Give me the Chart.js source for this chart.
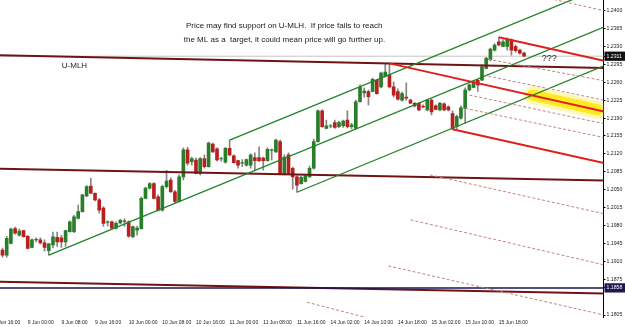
<!DOCTYPE html>
<html><head><meta charset="utf-8">
<script src="https://cdn.jsdelivr.net/npm/chart.js@4/dist/chart.umd.min.js"></script>
<style>html,body{margin:0;padding:0;background:#fff;overflow:hidden}#wrap{width:625px;height:327px;position:relative}</style>
</head><body><div id="wrap"><canvas id="c"></canvas></div>
<script>
// ---- time axis labels (bar index -> label) ----
const timeLabels = ["8 Jun 16:00","9 Jun 00:00","9 Jun 08:00","9 Jun 16:00","10 Jun 00:00","10 Jun 08:00","10 Jun 16:00","11 Jun 00:00","11 Jun 08:00","11 Jun 16:00","14 Jun 02:00","14 Jun 10:00","14 Jun 18:00","15 Jun 02:00","15 Jun 10:00","15 Jun 18:00"];
const timeTickBars = [-2,6,14,22,30,38,46,54,62,70,78,86,94,102,110,118];

// ---- H1 candles ----
const opens = [1.1932,1.1922,1.1945,1.1974,1.1961,1.1970,1.1959,1.1937,1.1952,1.1952,
1.1946,1.1931,1.1942,1.1957,1.1956,1.1948,1.1968,1.1968,1.1994,1.2007,
1.2038,1.2057,1.2043,1.2030,1.2014,1.1986,1.1987,1.1975,1.1985,1.1989,
1.1987,1.1958,1.1971,1.1974,1.2033,1.2053,1.2062,1.2036,1.2010,1.2056,
1.2069,1.2046,1.2027,1.2075,1.2128,1.2105,1.2108,1.2082,1.2111,1.2095,
1.2139,1.2130,1.2110,1.2104,1.2131,1.2116,1.2107,1.2102,1.2098,1.2098,
1.2113,1.2113,1.2112,1.2107,1.2127,1.2124,1.2144,1.2082,1.2118,1.2092,
1.2075,1.2062,1.2066,1.2075,1.2092,1.2144,1.2204,1.2170,1.2174,1.2181,
1.2173,1.2175,1.2186,1.2173,1.2170,1.2222,1.2239,1.2242,1.2242,1.2264,
1.2251,1.2272,1.2274,1.2251,1.2242,1.2225,1.2231,1.2225,1.2219,1.2219,
1.2213,1.2206,1.2225,1.2214,1.2206,1.2218,1.2212,1.2199,1.2173,1.2190,
1.2209,1.2245,1.2250,1.2264,1.2264,1.2287,1.2304,1.2323,1.2339,1.2330,
1.2330,1.2343,1.2330,1.2323,1.2317];
const highs = [1.1936,1.1959,1.1975,1.1977,1.1973,1.1971,1.1961,1.1954,1.1956,1.1956,
1.1952,1.1945,1.1967,1.1967,1.1961,1.1971,1.1989,1.2000,1.2020,1.2041,
1.2058,1.2072,1.2044,1.2033,1.2017,1.1989,1.1989,1.1987,1.1992,1.1993,
1.1989,1.1979,1.1979,1.2036,1.2055,1.2064,1.2064,1.2040,1.2059,1.2088,
1.2073,1.2049,1.2079,1.2132,1.2133,1.2114,1.2112,1.2113,1.2118,1.2143,
1.2141,1.2132,1.2114,1.2133,1.2147,1.2118,1.2108,1.2109,1.2110,1.2120,
1.2122,1.2134,1.2114,1.2132,1.2130,1.2149,1.2147,1.2118,1.2122,1.2094,
1.2077,1.2076,1.2079,1.2096,1.2149,1.2206,1.2206,1.2186,1.2178,1.2186,
1.2184,1.2186,1.2204,1.2180,1.2225,1.2255,1.2249,1.2245,1.2268,1.2266,
1.2280,1.2295,1.2297,1.2261,1.2247,1.2241,1.2259,1.2227,1.2221,1.2221,
1.2216,1.2227,1.2227,1.2216,1.2221,1.2220,1.2214,1.2204,1.2196,1.2214,
1.2249,1.2257,1.2264,1.2266,1.2294,1.2309,1.2327,1.2335,1.2348,1.2343,
1.2347,1.2345,1.2333,1.2325,1.2319];
const lows = [1.1918,1.1918,1.1944,1.1963,1.1959,1.1957,1.1934,1.1936,1.1948,1.1944,
1.1930,1.1922,1.1936,1.1939,1.1937,1.1939,1.1967,1.1966,1.1993,1.2006,
1.2036,1.2042,1.2028,1.2004,1.1978,1.1979,1.1973,1.1973,1.1983,1.1978,
1.1957,1.1956,1.1961,1.1973,1.2032,1.2051,1.2032,1.2008,1.2008,1.2053,
1.2044,1.2024,1.2026,1.2069,1.2098,1.2098,1.2081,1.2079,1.2092,1.2094,
1.2123,1.2106,1.2106,1.2102,1.2116,1.2102,1.2092,1.2095,1.2096,1.2092,
1.2088,1.2105,1.2088,1.2106,1.2108,1.2123,1.2079,1.2079,1.2081,1.2051,
1.2045,1.2061,1.2065,1.2074,1.2090,1.2143,1.2172,1.2169,1.2171,1.2170,
1.2172,1.2172,1.2171,1.2169,1.2169,1.2221,1.2231,1.2216,1.2241,1.2237,
1.2249,1.2270,1.2249,1.2231,1.2225,1.2223,1.2225,1.2218,1.2212,1.2204,
1.2210,1.2204,1.2196,1.2206,1.2204,1.2204,1.2204,1.2168,1.2169,1.2188,
1.2180,1.2243,1.2249,1.2242,1.2263,1.2286,1.2302,1.2321,1.2331,1.2329,
1.2323,1.2313,1.2319,1.2315,1.2310];
const closes = [1.1922,1.1955,1.1973,1.1965,1.1969,1.1958,1.1935,1.1952,1.1953,1.1946,
1.1937,1.1944,1.1958,1.1948,1.1948,1.1970,1.1987,1.1997,1.2007,1.2040,
1.2056,1.2043,1.2030,1.2010,1.1984,1.1987,1.1975,1.1984,1.1990,1.1988,
1.1959,1.1978,1.1975,1.2033,1.2053,1.2062,1.2033,1.2010,1.2056,1.2067,
1.2046,1.2027,1.2075,1.2128,1.2102,1.2111,1.2082,1.2111,1.2095,1.2141,
1.2124,1.2108,1.2111,1.2131,1.2118,1.2103,1.2098,1.2103,1.2109,1.2118,
1.2107,1.2107,1.2107,1.2129,1.2128,1.2147,1.2082,1.2114,1.2082,1.2075,
1.2059,1.2074,1.2077,1.2092,1.2144,1.2204,1.2173,1.2175,1.2175,1.2172,
1.2181,1.2184,1.2173,1.2177,1.2222,1.2250,1.2243,1.2232,1.2266,1.2238,
1.2278,1.2280,1.2251,1.2235,1.2227,1.2238,1.2229,1.2219,1.2214,1.2206,
1.2212,1.2225,1.2202,1.2207,1.2219,1.2206,1.2206,1.2169,1.2193,1.2210,
1.2245,1.2255,1.2261,1.2255,1.2290,1.2307,1.2325,1.2333,1.2333,1.2339,
1.2344,1.2323,1.2322,1.2317,1.2311];

// ---- price axis ----
const priceTicks = [1.1805,1.1875,1.1910,1.1945,1.1980,1.2015,1.2050,1.2085,1.2120,1.2155,1.2190,1.2225,1.2260,1.2295,1.2330,1.2365,1.2400];
const bidPrice = 1.2311;
const markPrice = 1.1858;

// ---- drawn objects: [bar, price] endpoints ----
const uMLH      = [[-1,1.2313],[143,1.2288]];
const midMaroon = [[-1,1.2091],[143,1.2068]];
const lowMaroon = [[-1,1.1870],[143,1.1847]];
const markLine  = [[-1,markPrice],[143,markPrice]];
const bidLine   = [[-1,bidPrice],[143,bidPrice]];
const greenUpper  = [[54,1.2147],[143,1.2447]];
const greenMiddle = [[11,1.1922],[143,1.2368]];
const greenLower  = [[70,1.2045],[143,1.2292]];
const redTop    = [[118,1.2348],[143,1.2302]];
const redMedian = [[92,1.2297],[143,1.2203]];
const redBottom = [[107,1.2168],[143,1.2102]];
const warnLines = [
  [[130,1.2424],[143,1.2400]],
  [[115.5,1.2305],[143,1.2263]],
  [[115.5,1.2272],[143,1.2225]],
  [[111,1.2235],[143,1.2179]],
  [[110,1.2209],[143,1.2152]],
  [[101.6,1.2079],[143,1.2003]],
  [[97,1.1991],[143,1.1903]],
  [[91.7,1.1901],[143,1.1805]],
  [[72.4,1.1830],[143,1.1680]]
];
const highlight = [[126,1.2235],[141.5,1.2206]];

// ---- text notes ----
const noteTexts = ["Price may find support on U-MLH.  If price fails to reach","the ML as a  target, it could mean price will go further up.","U-MLH","???"];
const noteAnchors = [[43.6,1.2371],[43.1,1.2343],[14.1,1.2292],[128.2,1.2307]];

// ---- build ----
const GREEN = '#2a7d2a', RED = '#b8201f';
const idx = opens.map((_, i) => i);
const pts = a => a.map(([x, y]) => ({x, y}));
function lineDS(points, color, width, dash, order, cap) {
  return {type:'line', data: pts(points), borderColor: color, borderWidth: width,
    borderDash: dash || [], pointRadius: 0, pointHoverRadius: 0, fill: false, tension: 0,
    order: order, borderCapStyle: cap || 'butt', clip: 0};
}
const datasets = [
  lineDS(highlight, 'rgba(255,240,80,0.45)', 18, null, 100, 'round'),
  lineDS(highlight, 'rgba(255,232,20,0.9)', 11, null, 99, 'round'),
  lineDS(bidLine, '#c4c4c4', 1, null, 90),
  {type:'bar', data: idx.map(i => ({x: i, y: [lows[i], highs[i]]})), backgroundColor: '#858585',
    barThickness: 1, grouped: false, borderWidth: 0, order: 60},
  {type:'bar', data: idx.map(i => ({x: i, y: [opens[i], closes[i]]})),
    backgroundColor: idx.map(i => closes[i] >= opens[i] ? GREEN : RED),
    barThickness: 3, grouped: false, borderWidth: 0, borderSkipped: false, order: 59},
  lineDS(uMLH, '#6e1414', 2, null, 10),
  lineDS(midMaroon, '#6e1414', 2, null, 10),
  lineDS(lowMaroon, '#6e1414', 2, null, 10),
  lineDS(markLine, '#1b1450', 1.5, null, 9),
  lineDS(greenUpper, '#23822a', 1.3, null, 8),
  lineDS(greenMiddle, '#23822a', 1.3, null, 8),
  lineDS(greenLower, '#23822a', 1.3, null, 8),
  ...warnLines.map(w => lineDS(w, '#c08585', 1, [3, 2], 7)),
  lineDS(redTop, '#e0201c', 2, null, 5),
  lineDS(redMedian, '#e0201c', 2, null, 5),
  lineDS(redBottom, '#e0201c', 2, null, 5)
];

const yTicks = priceTicks.concat([bidPrice, markPrice]).sort((a, b) => a - b);
const isSpecial = v => Math.abs(v - bidPrice) < 1e-7 || Math.abs(v - markPrice) < 1e-7;
const axisFont = {family: '"Liberation Sans", Arial, sans-serif', size: 5.2};
const AXIS_W = 21.5, AXIS_H = 10;

// Pin the plot frame like the terminal window: plot from the left edge, price scale on the right.
const frameLayout = {
  id: 'frameLayout',
  afterLayout(chart) {
    const {x, y} = chart.scales;
    const W = chart.width, H = chart.height;
    const right = W - AXIS_W, bottom = H - AXIS_H;
    Object.assign(chart.chartArea, {left: 0, top: 0, right: right, bottom: bottom, width: right, height: bottom});
    Object.assign(x, {left: 0, right: right, top: bottom, bottom: H, width: right, height: AXIS_H});
    Object.assign(y, {left: right, right: W, top: 0, bottom: bottom, width: AXIS_W, height: bottom});
    x.configure(); y.configure();
  }
};

const notesPlugin = {
  id: 'notes',
  afterDatasetsDraw(chart) {
    const {ctx, scales: {x, y}} = chart;
    ctx.save();
    ctx.fillStyle = '#1a1a1a';
    ctx.textAlign = 'left';
    ctx.textBaseline = 'middle';
    noteTexts.forEach((t, i) => {
      ctx.font = (i === 3 ? '9px' : '8px') + ' "Liberation Sans", Arial, sans-serif';
      ctx.fillText(t, x.getPixelForValue(noteAnchors[i][0]), y.getPixelForValue(noteAnchors[i][1]));
    });
    ctx.restore();
  }
};

new Chart(document.getElementById('c'), {
  type: 'bar',
  data: {datasets},
  plugins: [frameLayout, notesPlugin],
  options: {
    responsive: true, maintainAspectRatio: false, animation: false, devicePixelRatio: 1,
    layout: {padding: 0, autoPadding: false},
    plugins: {legend: {display: false}, tooltip: {enabled: false}},
    scales: {
      x: {
        type: 'linear', min: -0.594, max: 142.89, offset: false,
        grid: {display: false, drawTicks: false, offset: false},
        border: {display: false},
        ticks: {align: 'start', autoSkip: false, maxRotation: 0, font: {family: axisFont.family, size: 5}, color: '#222', padding: 2.5,
          callback: v => { const k = timeTickBars.indexOf(v); return k >= 0 ? timeLabels[k] : ''; }},
        afterBuildTicks: s => { s.ticks = timeTickBars.map(v => ({value: v})); },
        afterFit: s => { s.height = AXIS_H; s.paddingLeft = 0; s.paddingRight = 0; }
      },
      y: {
        type: 'linear', position: 'right', min: 1.18011, max: 1.24209, beginAtZero: false,
        grid: {display: true, drawOnChartArea: false, drawTicks: true, tickLength: 2, color: '#000'},
        border: {display: true, color: '#000', width: 1},
        ticks: {font: axisFont, padding: 1,
          color: c => isSpecial(c.tick.value) ? '#fff' : '#222',
          showLabelBackdrop: c => isSpecial(c.tick.value),
          backdropColor: c => Math.abs(c.tick.value - markPrice) < 1e-7 ? '#1f1652' : '#101010',
          backdropPadding: {top: 1.5, bottom: 1.5, left: 2, right: 3},
          callback: v => v.toFixed(4)},
        afterBuildTicks: s => { s.ticks = yTicks.map(v => ({value: v})); },
        afterFit: s => { s.width = AXIS_W; s.paddingTop = 0; s.paddingBottom = 0; }
      }
    }
  }
});
</script>
</body></html>
